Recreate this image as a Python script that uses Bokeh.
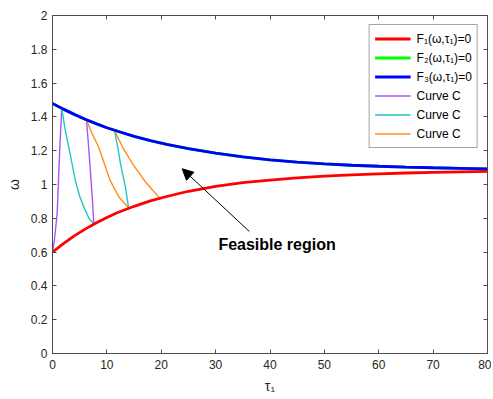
from bokeh.plotting import figure
from bokeh.models import (Range1d, LinearAxis, FixedTicker, Legend, LegendItem,
                          Arrow, NormalHead, Label)
from bokeh.embed import file_html
from bokeh.resources import INLINE

# ---- data ----
tau = [0, 2, 4, 6, 8, 10, 12, 15, 18, 21, 25, 30, 35, 40, 45, 50, 55, 60, 65, 70, 75, 80]
f1 = [0.600, 0.650, 0.696, 0.736, 0.772, 0.805, 0.834, 0.871, 0.903, 0.929, 0.960,
      0.989, 1.011, 1.026, 1.039, 1.049, 1.057, 1.063, 1.068, 1.072, 1.075, 1.078]
f2 = [1.480, 1.446, 1.415, 1.386, 1.360, 1.336, 1.315, 1.285, 1.260, 1.237, 1.212,
      1.185, 1.164, 1.146, 1.132, 1.122, 1.114, 1.108, 1.103, 1.099, 1.096, 1.093]
f3 = [1.480, 1.446, 1.415, 1.386, 1.360, 1.336, 1.315, 1.285, 1.260, 1.237, 1.212,
      1.185, 1.164, 1.146, 1.132, 1.122, 1.114, 1.108, 1.103, 1.099, 1.096, 1.093]

purple1_t = [0.0, 0.35, 0.86, 1.1, 1.35, 1.7]
purple1_w = [0.60, 0.67, 0.83, 1.02, 1.22, 1.45]
cyan1_t = [1.7, 2.3, 3.0, 4.2, 5.0, 5.76, 6.7, 7.6]
cyan1_w = [1.45, 1.33, 1.22, 1.024, 0.93, 0.866, 0.80, 0.768]
purple2_t = [6.25, 6.7, 7.1, 7.4, 7.6]
purple2_w = [1.383, 1.20, 1.02, 0.88, 0.768]
orange1_t = [6.25, 7.3, 8.5, 10.6, 12.2, 14.0]
orange1_w = [1.383, 1.30, 1.22, 1.024, 0.926, 0.862]
cyan2_t = [11.4, 12.0, 12.5, 13.4, 14.0]
cyan2_w = [1.32, 1.22, 1.124, 0.986, 0.862]
orange2_t = [11.4, 12.9, 14.7, 16.9, 18.3, 19.7]
orange2_w = [1.32, 1.22, 1.124, 1.024, 0.97, 0.921]

x_ticks = [0, 10, 20, 30, 40, 50, 60, 70, 80]
y_ticks = [0, 0.2, 0.4, 0.6, 0.8, 1.0, 1.2, 1.4, 1.6, 1.8, 2.0]
y_tick_labels = {0: "0", 0.2: "0.2", 0.4: "0.4", 0.6: "0.6", 0.8: "0.8", 1.0: "1",
                 1.2: "1.2", 1.4: "1.4", 1.6: "1.6", 1.8: "1.8", 2.0: "2"}

legend_labels = ["F\u2081(\u03c9,\u03c4\u2081)=0", "F\u2082(\u03c9,\u03c4\u2081)=0",
                 "F\u2083(\u03c9,\u03c4\u2081)=0", "Curve C", "Curve C", "Curve C"]

annot_text = "Feasible region"
annot_pos = (41.3, 0.645)
arrow_tail = (36.2, 0.722)
arrow_head = (23.85, 1.093)

FONT = "Liberation Sans"
TXT = "#262626"
AX = "#4d4d4d"

p = figure(width=491, height=397, output_backend="svg", toolbar_location=None,
           x_range=Range1d(0, 80), y_range=Range1d(0, 2),
           min_border_left=52, min_border_right=4, min_border_top=15, min_border_bottom=44,
           x_axis_label="\u03c4\u2081", y_axis_label="\u03c9")
p.xgrid.visible = False
p.ygrid.visible = False
p.outline_line_color = AX
p.background_fill_color = "white"

for ax in (p.xaxis[0], p.yaxis[0]):
    ax.axis_line_color = AX
    ax.major_tick_line_color = AX
    ax.major_tick_in = 4
    ax.major_tick_out = 0
    ax.minor_tick_line_color = None
    ax.major_label_text_font = FONT
    ax.major_label_text_font_size = "12px"
    ax.major_label_text_color = TXT
    ax.axis_label_text_font = FONT
    ax.axis_label_text_font_size = "14px"
    ax.axis_label_text_font_style = "normal"
    ax.axis_label_text_color = TXT

p.xaxis[0].ticker = FixedTicker(ticks=x_ticks)
p.yaxis[0].ticker = FixedTicker(ticks=y_ticks)
p.yaxis[0].major_label_overrides = y_tick_labels
p.xaxis[0].major_label_standoff = 6
p.yaxis[0].major_label_standoff = 5
p.xaxis[0].axis_label_standoff = 6
p.yaxis[0].axis_label_standoff = 6

top = LinearAxis(ticker=FixedTicker(ticks=x_ticks),
                 major_label_overrides={t: "" for t in x_ticks},
                 major_label_standoff=0, major_tick_in=4, major_tick_out=0,
                 minor_tick_line_color=None, axis_line_color=AX, major_tick_line_color=AX)
right = LinearAxis(ticker=FixedTicker(ticks=y_ticks),
                   major_label_overrides={t: "" for t in y_ticks},
                   major_label_standoff=0, major_tick_in=4, major_tick_out=0,
                   minor_tick_line_color=None, axis_line_color=AX, major_tick_line_color=AX)
p.add_layout(top, "above")
p.add_layout(right, "right")

r_c1 = p.line(purple1_t, purple1_w, line_color="#A855F7", line_width=1.4)
p.line(purple2_t, purple2_w, line_color="#A855F7", line_width=1.4)
r_c2 = p.line(cyan1_t, cyan1_w, line_color="#1FC6C9", line_width=1.4)
p.line(cyan2_t, cyan2_w, line_color="#1FC6C9", line_width=1.4)
r_c3 = p.line(orange1_t, orange1_w, line_color="#FF8C1A", line_width=1.4)
p.line(orange2_t, orange2_w, line_color="#FF8C1A", line_width=1.4)

r_f2 = p.line(tau, f2, line_color="#00FF00", line_width=2.8)
r_f1 = p.line(tau, f1, line_color="#FF0000", line_width=2.8)
r_f3 = p.line(tau, f3, line_color="#0000FF", line_width=2.8)

arr = Arrow(end=NormalHead(size=11, fill_color="black", line_color="black", line_width=1),
            x_start=arrow_tail[0], y_start=arrow_tail[1],
            x_end=arrow_head[0], y_end=arrow_head[1],
            line_color="black", line_width=1)
p.add_layout(arr)

lbl = Label(x=annot_pos[0], y=annot_pos[1], text=annot_text, text_font=FONT,
            text_font_size="16px", text_font_style="bold", text_color="black",
            text_align="center", text_baseline="middle")
p.add_layout(lbl)

renderers = [r_f1, r_f2, r_f3, r_c1, r_c2, r_c3]
items = [LegendItem(label=lab, renderers=[r]) for lab, r in zip(legend_labels, renderers)]
leg = Legend(items=items, location="top_right", glyph_width=36, glyph_height=17,
             label_height=17, spacing=2, padding=5, margin=9,
             label_standoff=6, label_text_font=FONT, label_text_font_size="12px",
             label_text_color="black", border_line_color=AX, border_line_width=1,
             background_fill_color="white", background_fill_alpha=1)
p.add_layout(leg, "center")

open("out.html", "w").write(file_html(p, INLINE))
